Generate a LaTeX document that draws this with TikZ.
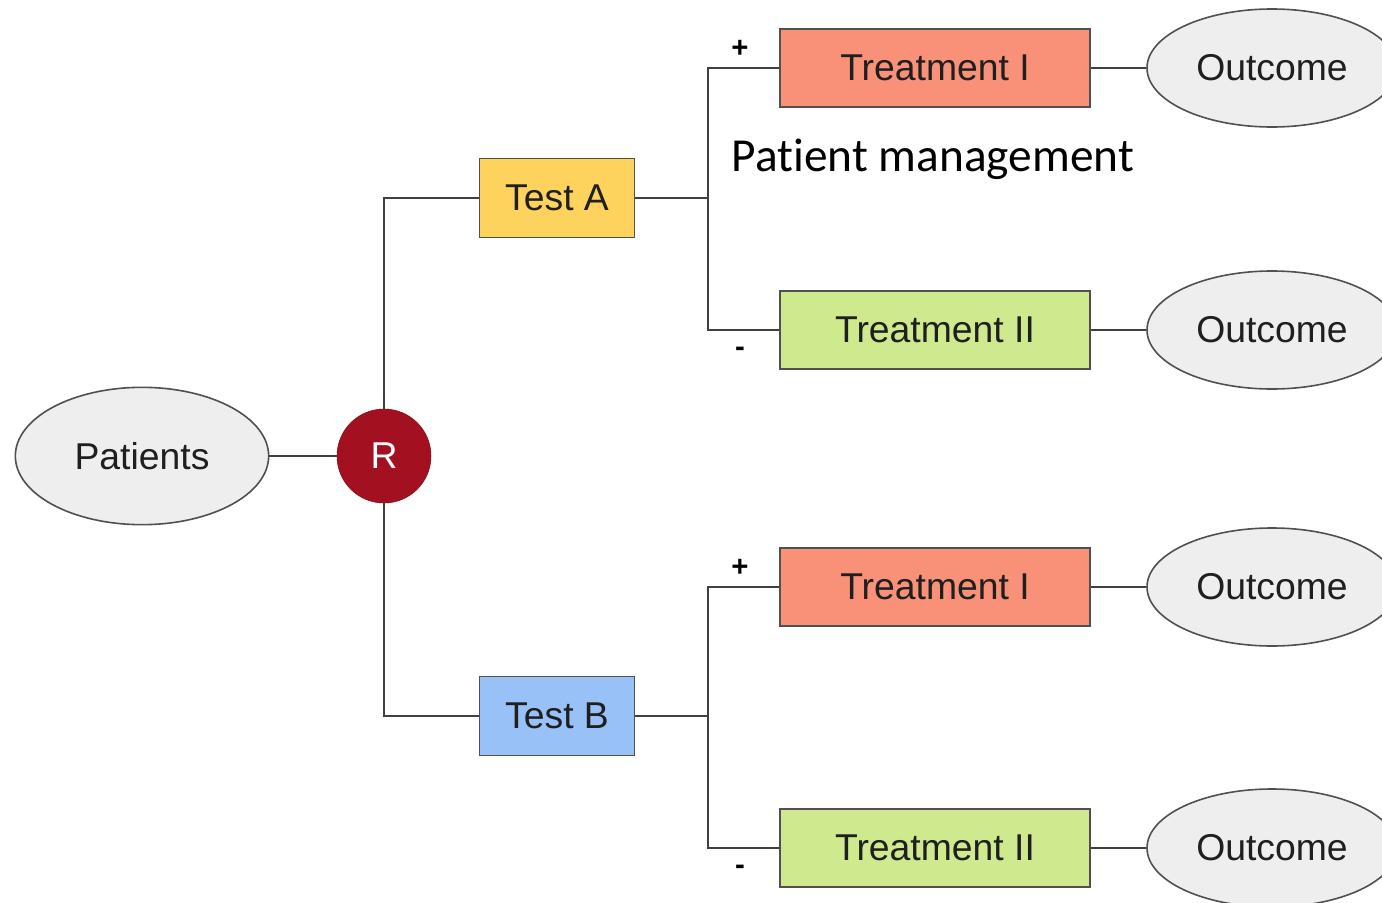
\documentclass[tikz,border=0pt]{standalone}
\usepackage{fontspec}
\setmainfont{Liberation Sans}
\newfontfamily\notefont[Ligatures=NoCommon]{Carlito}
\usetikzlibrary{shapes.geometric}
\definecolor{salmon}{HTML}{F99179}
\definecolor{lime}{HTML}{CFEA8E}
\definecolor{sun}{HTML}{FED35D}
\definecolor{sky}{HTML}{98C1F8}
\definecolor{rand}{HTML}{A3101F}
\definecolor{oval}{HTML}{EEEEEE}
\definecolor{edge}{HTML}{505050}
\definecolor{wire}{HTML}{404040}
\tikzset{
  lbl/.style={font=\fontsize{28}{32}\selectfont, text=black!88, inner sep=0pt},
  box/.style={lbl, draw=edge, line width=1.2pt, rectangle},
  treatbox/.style={box, minimum width=232.5pt, minimum height=58.5pt},
  testbox/.style={box, minimum width=116.25pt, minimum height=59.25pt},
  bubble/.style={lbl, ellipse, draw=edge, fill=oval, line width=1.2pt},
  outbubble/.style={bubble, minimum width=187.5pt, minimum height=88.5pt},
  wirestyle/.style={draw=wire, line width=1.5pt},
  sign/.style={font=\fontsize{22}{24}\selectfont\bfseries, inner sep=0pt}
}
\begin{document}
\begin{tikzpicture}[x=0.75pt, y=-0.75pt]
  \clip (0,0) rectangle (1382,903);
  \fill[white] (0,0) rectangle (1382,903);

  % start, randomisation, tests
  \node[bubble, minimum width=190pt, minimum height=103pt] (pat) at (142,456) {Patients};
  \node[circle, fill=rand, draw=rand!80!black, minimum size=70.5pt, inner sep=0pt,
        text=white, font=\fontsize{28}{32}\selectfont] (r) at (384,456) {R};
  \node[testbox, fill=sun] (ta) at (557,198) {Test A};
  \node[testbox, fill=sky] (tb) at (557,716) {Test B};

  % treatments
  \node[treatbox, fill=salmon] (a1) at (935,68) {Treatment I};
  \node[treatbox, fill=lime] (a2) at (935,330) {Treatment II};
  \node[treatbox, fill=salmon] (b1) at (935,587) {Treatment I};
  \node[treatbox, fill=lime] (b2) at (935,848) {Treatment II};

  % outcomes
  \node[outbubble] (oa1) at (1272,68) {Outcome};
  \node[outbubble] (oa2) at (1272,330) {Outcome};
  \node[outbubble] (ob1) at (1272,587) {Outcome};
  \node[outbubble] (ob2) at (1272,848) {Outcome};

  % branch points
  \coordinate (ja) at (708,198);
  \coordinate (jb) at (708,716);

  % connectors
  \draw[wirestyle] (pat) -- (r);
  \draw[wirestyle] (r) |- (ta);
  \draw[wirestyle] (r) |- (tb);
  \draw[wirestyle] (ta) -- (ja);
  \draw[wirestyle] (tb) -- (jb);
  \draw[wirestyle] (ja) |- (a1);
  \draw[wirestyle] (ja) |- (a2);
  \draw[wirestyle] (jb) |- (b1);
  \draw[wirestyle] (jb) |- (b2);
  \draw[wirestyle] (a1) -- (oa1);
  \draw[wirestyle] (a2) -- (oa2);
  \draw[wirestyle] (b1) -- (ob1);
  \draw[wirestyle] (b2) -- (ob2);

  % test result signs
  \node[sign] (pa) at (740,49) {+};
  \node[sign] (ma) at (740,352) {-};
  \node[sign] (pb) at (740,568) {+};
  \node[sign] (mb) at (740,870) {-};

  \node[font=\notefont\fontsize{35.5}{40}\selectfont, inner sep=0pt] (pm) at (933,159) {Patient management};
\end{tikzpicture}
\end{document}
